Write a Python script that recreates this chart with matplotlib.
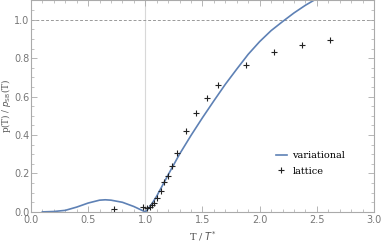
import matplotlib
matplotlib.use("Agg")
import matplotlib.pyplot as plt
from matplotlib.ticker import MultipleLocator, FormatStrFormatter

# variational curve
T_var = [0.1, 0.2, 0.3, 0.4, 0.5, 0.6, 0.65, 0.7, 0.8, 0.9, 0.95, 1.0, 1.02, 1.05, 1.1, 1.2, 1.3, 1.4, 1.5,
         1.6, 1.7, 1.8, 1.9, 2.0, 2.1, 2.2, 2.3, 2.4, 2.5]
p_var = [0.0, 0.002, 0.008, 0.025, 0.046, 0.061, 0.063, 0.061, 0.05, 0.028, 0.014, 0.0, 0.012, 0.035, 0.082,
         0.193, 0.301, 0.398, 0.49, 0.578, 0.664, 0.743, 0.82, 0.886, 0.943, 0.99, 1.035, 1.075, 1.11]

# lattice data
T_lat = [0.726, 0.977, 1.012, 1.041, 1.061, 1.076, 1.1, 1.137, 1.167, 1.196, 1.237, 1.275,
         1.356, 1.444, 1.54, 1.64, 1.884, 2.129, 2.374, 2.619]
p_lat = [0.014, 0.028, 0.019, 0.028, 0.036, 0.048, 0.071, 0.11, 0.157, 0.187, 0.24, 0.305,
         0.42, 0.513, 0.594, 0.66, 0.765, 0.833, 0.87, 0.896]

fig = plt.figure(figsize=(3.82, 2.43), dpi=100)
ax = fig.add_axes([0.081, 0.128, 0.898, 0.870])

ax.axvline(1.0, color="#d8d8d8", lw=0.8, zorder=0)
ax.axhline(1.0, color="#999999", lw=0.7, ls=(0, (3, 2)), zorder=0)

ax.plot(T_var, p_var, color="#5E81B5", lw=1.2, label="variational")
ax.plot(T_lat, p_lat, ls="none", marker="+", ms=4, mew=0.8, color="#222222", label="lattice")

ax.set_xlim(0, 3.0)
ax.set_ylim(0, 1.1)
ax.xaxis.set_major_locator(MultipleLocator(0.5))
ax.xaxis.set_minor_locator(MultipleLocator(0.1))
ax.yaxis.set_major_locator(MultipleLocator(0.2))
ax.yaxis.set_minor_locator(MultipleLocator(0.05))
ax.xaxis.set_major_formatter(FormatStrFormatter("%.1f"))
ax.yaxis.set_major_formatter(FormatStrFormatter("%.1f"))

for s in ax.spines.values():
    s.set_color("#aaaaaa")
    s.set_linewidth(0.8)
ax.tick_params(which="both", direction="in", top=True, right=True, colors="#aaaaaa",
               labelcolor="#777777", labelsize=7, pad=2)
ax.tick_params(axis="y", pad=1)
ax.tick_params(which="major", length=4, width=0.6)
ax.tick_params(which="minor", length=2, width=0.5)

ax.set_xlabel("T / $T^{*}$", family="DejaVu Serif", fontsize=7, color="#555555", labelpad=3)
ax.set_ylabel(r"p(T) / $p_{\rm SB}$(T)", family="DejaVu Serif", fontsize=6.2, color="#555555")
ax.yaxis.set_label_coords(-0.053, 0.5)

leg = ax.legend(loc="upper left", bbox_to_anchor=(0.714, 0.286), frameon=False,
                borderaxespad=0, borderpad=0,
                prop={"family": "DejaVu Serif", "size": 7}, handlelength=1.1, handletextpad=0.6,
                labelspacing=0.65)

fig.savefig("out.png", dpi=100)
